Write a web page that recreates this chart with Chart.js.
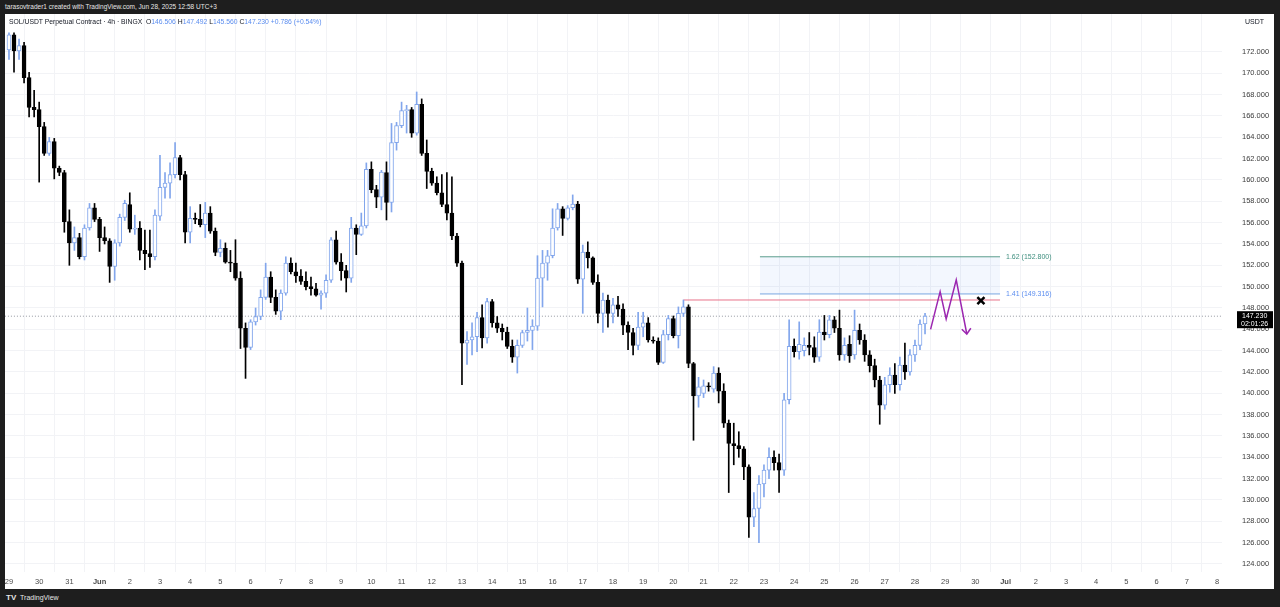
<!DOCTYPE html>
<html lang="en">
<head>
  <meta charset="UTF-8">
  <title>SOL/USDT Perpetual Contract - 4h</title>
  <script src="https://cdn.jsdelivr.net/npm/chart.js"></script>
  <style>
    html, body {
      margin: 0;
      padding: 0;
      width: 1280px;
      height: 607px;
      overflow: hidden;
      background: #1e1e1e;
      font-family: "Liberation Sans", Arial, sans-serif;
    }
    .topbar {
      position: absolute;
      left: 5px;
      top: 3px;
      font-size: 6.5px;
      color: #e6e6e6;
    }
    .panel {
      position: absolute;
      left: 5px;
      top: 14px;
      width: 1269px;
      height: 575px;
      background: #ffffff;
    }
    .panel canvas { position: absolute; left: 0; top: 0; }
    .legend {
      position: absolute;
      left: 4px;
      top: 4px;
      font-size: 6.8px;
      color: #131722;
      z-index: 2;
    }
    .legend .v { color: #5b8def; }
    .unit {
      position: absolute;
      left: 1240px;
      top: 4px;
      font-size: 7px;
      color: #131722;
      z-index: 2;
    }
    .brand {
      position: absolute;
      left: 6px;
      top: 593px;
      font-size: 7px;
      color: #e6e6e6;
    }
    .brand b { font-size: 8px; margin-right: 2px; }
  </style>
</head>
<body>

  <div class="topbar">tarasovtrader1 created with TradingView.com, Jun 28, 2025 12:58 UTC+3</div>

  <div class="panel">
    <div class="legend">SOL/USDT Perpetual Contract · 4h · BINGX &nbsp;O<span class="v">146.506</span> H<span class="v">147.492</span> L<span class="v">145.560</span> C<span class="v">147.230</span> <span class="v">+0.786 (+0.54%)</span></div>
    <div class="unit">USDT</div>
    <canvas id="solChart" width="1269" height="575"></canvas>
  </div>

  <div class="brand"><b>TV</b> TradingView</div>

  <script>
    // 4h candles, May 29 00:00 -> Jun 28 08:00 (index = candle number)
    const opens = [
      172.2, 173.6, 172.1, 172.6, 169.6, 166.8, 166.6, 165.0, 162.5, 163.6,
      161.1, 160.7, 156.1, 154.1, 154.6, 152.8, 155.5, 157.4, 156.3, 154.6,
      154.3, 151.9, 154.1, 156.5, 157.7, 155.4, 155.5, 153.4, 153.1, 152.8,
      156.6, 159.3, 159.7, 160.5, 162.1, 160.5, 155.1, 156.4, 156.3, 155.8,
      156.9, 155.2, 153.2, 153.6, 152.3, 152.2, 150.8, 146.1, 144.3, 146.7,
      147.2, 149.0, 150.9, 149.0, 147.7, 149.4, 152.2, 151.4, 151.0, 150.5,
      150.0, 149.8, 149.2, 149.4, 150.6, 154.4, 152.3, 151.5, 150.8, 155.5,
      154.9, 155.7, 161.0, 159.1, 158.4, 160.7, 157.9, 163.5, 165.1, 166.5,
      166.6, 164.4, 167.1, 162.5, 160.8, 159.7, 158.8, 157.7, 156.9, 154.75,
      152.2, 144.7, 145.0, 145.3, 147.1, 145.2, 148.6, 146.6, 146.1, 145.75,
      144.4, 143.4, 144.5, 145.7, 145.9, 146.3, 150.8, 152.2, 152.9, 155.5,
      157.3, 156.4, 157.4, 157.75, 150.7, 153.25, 152.7, 150.4, 147.5, 148.75,
      147.5, 148.3, 147.9, 146.4, 145.7, 144.5, 146.2, 146.6, 145.0, 144.9,
      142.9, 145.5, 147.0, 145.4, 147.5, 148.1, 142.8, 139.75, 140.0, 140.7,
      140.4, 141.9, 140.2, 137.2, 135.3, 135.1, 134.8, 133.1, 128.4, 129.2,
      131.5, 132.8, 134.0, 133.5, 132.8, 139.4, 144.4, 143.9, 144.0, 144.5,
      144.3, 143.4, 145.75, 145.5, 146.9, 146.1, 143.6, 144.6, 143.6, 145.9,
      145.0, 143.6, 142.6, 141.25, 138.9, 140.8, 141.7, 140.8, 142.65, 142.0,
      143.6, 144.5, 146.506
    ];
    const highs = [
      173.8, 173.8, 173.2, 172.9, 170.1, 168.4, 167.3, 165.4, 164.0, 163.9,
      161.3, 160.9, 157.2, 155.6, 155.0, 155.8, 157.8, 157.8, 156.5, 155.6,
      154.5, 154.4, 156.8, 158.1, 158.8, 156.7, 156.1, 155.3, 155.3, 157.2,
      162.3, 160.7, 161.6, 163.5, 162.3, 160.8, 157.5, 156.9, 157.7, 157.9,
      157.5, 155.5, 154.4, 154.1, 153.4, 154.4, 151.4, 146.6, 146.9, 148.0,
      149.7, 152.2, 151.4, 149.7, 149.7, 152.8, 152.7, 152.2, 151.6, 151.4,
      150.9, 150.3, 149.6, 151.1, 154.6, 155.2, 153.1, 152.0, 156.5, 155.8,
      156.9, 161.6, 161.7, 159.5, 160.9, 161.7, 165.3, 165.4, 167.3, 167.0,
      166.8, 168.25, 167.6, 163.75, 161.1, 160.3, 160.5, 160.7, 160.3, 155.0,
      152.4, 145.8, 146.6, 147.6, 148.3, 148.9, 148.8, 147.2, 146.5, 146.2,
      145.0, 145.0, 145.9, 148.0, 146.9, 152.9, 153.4, 153.4, 157.3, 157.8,
      157.5, 157.6, 158.6, 158.0, 153.9, 154.2, 152.8, 151.1, 149.4, 149.2,
      148.9, 149.1, 148.4, 146.7, 146.1, 147.6, 147.6, 147.1, 145.3, 145.2,
      145.9, 147.3, 147.25, 148.1, 148.75, 148.3, 142.9, 141.5, 141.25, 141.0,
      142.5, 142.4, 140.9, 137.5, 137.2, 136.4, 135.0, 133.3, 130.7, 132.3,
      133.3, 134.9, 134.6, 134.3, 140.0, 146.9, 145.1, 146.7, 145.2, 145.7,
      145.3, 146.9, 147.3, 147.3, 147.2, 147.8, 145.2, 145.4, 147.8, 146.5,
      145.5, 144.0, 143.2, 141.6, 141.5, 142.4, 142.8, 143.4, 144.7, 144.1,
      145.0, 146.9, 147.492
    ];
    const lows = [
      171.3, 170.1, 171.3, 169.1, 165.9, 165.9, 159.8, 162.3, 162.3, 160.1,
      160.4, 155.1, 152.0, 153.4, 152.6, 152.5, 155.3, 156.1, 153.3, 154.0,
      150.4, 150.6, 153.8, 156.2, 155.1, 154.9, 152.5, 151.6, 151.8, 152.5,
      156.2, 158.3, 158.3, 160.2, 160.0, 154.1, 154.1, 155.9, 155.6, 154.6,
      155.0, 152.9, 152.8, 152.2, 151.4, 150.6, 144.2, 141.4, 144.1, 146.4,
      146.9, 148.8, 148.5, 147.4, 146.9, 149.2, 151.2, 150.4, 150.2, 149.7,
      149.2, 149.1, 147.9, 149.0, 150.4, 152.1, 150.6, 149.5, 150.4, 153.0,
      154.8, 155.5, 158.8, 157.4, 157.2, 156.25, 157.0, 162.8, 164.9, 164.4,
      164.0, 164.2, 162.3, 159.2, 159.5, 158.6, 157.5, 156.25, 154.4, 151.9,
      140.8, 142.7, 143.6, 143.9, 144.25, 144.7, 146.2, 145.7, 145.0, 144.2,
      142.9, 141.9, 144.3, 144.9, 144.1, 145.9, 148.1, 150.6, 152.7, 155.3,
      154.8, 156.25, 157.2, 150.3, 147.5, 151.75, 150.2, 146.6, 145.7, 146.2,
      146.6, 147.2, 145.5, 144.1, 143.6, 144.1, 145.3, 144.8, 144.7, 142.7,
      142.8, 145.0, 145.2, 144.25, 147.2, 142.4, 135.6, 138.7, 139.6, 140.2,
      140.1, 139.1, 136.8, 130.7, 133.3, 134.0, 131.9, 126.5, 127.5, 126.0,
      130.3, 132.0, 132.8, 130.7, 132.3, 139.0, 143.4, 143.2, 143.5, 143.6,
      142.9, 143.0, 145.0, 145.2, 145.7, 143.1, 143.1, 142.9, 143.2, 144.6,
      143.0, 142.0, 140.6, 137.1, 138.5, 140.1, 140.0, 140.3, 141.3, 141.7,
      143.0, 144.1, 145.56
    ];
    const closes = [
      173.6, 172.1, 172.6, 169.6, 166.8, 166.6, 165.0, 162.5, 163.6, 161.1,
      160.7, 156.1, 154.1, 154.6, 152.8, 155.5, 157.4, 156.3, 154.6, 154.3,
      151.9, 154.1, 156.5, 157.8, 155.4, 155.5, 153.4, 153.1, 152.8, 156.7,
      159.3, 159.7, 160.5, 162.1, 160.5, 155.1, 156.4, 156.3, 155.8, 156.9,
      155.2, 153.2, 153.6, 152.3, 152.2, 150.8, 146.1, 144.3, 146.7, 147.2,
      149.0, 150.9, 149.0, 147.7, 149.4, 152.2, 151.4, 151.0, 150.5, 150.0,
      149.8, 149.2, 149.4, 150.6, 154.4, 152.3, 151.5, 150.8, 155.5, 154.9,
      155.7, 161.0, 159.1, 158.4, 160.75, 157.9, 163.5, 165.1, 166.5, 166.6,
      164.4, 167.1, 162.5, 160.8, 159.7, 158.8, 157.7, 156.9, 154.75, 152.2,
      144.7, 145.0, 145.3, 147.1, 145.2, 148.6, 146.6, 146.1, 145.75, 144.4,
      143.4, 144.5, 145.7, 145.9, 146.3, 150.8, 152.2, 152.9, 155.5, 157.3,
      156.4, 157.4, 157.75, 150.7, 153.25, 152.7, 150.4, 147.5, 148.75, 147.5,
      148.3, 147.9, 146.4, 145.7, 144.5, 146.2, 146.6, 145.0, 144.9, 142.9,
      145.5, 147.0, 145.4, 147.5, 148.1, 142.8, 139.75, 140.6, 140.7, 140.6,
      141.9, 140.2, 137.2, 135.3, 135.1, 134.8, 133.1, 128.4, 129.2, 131.5,
      132.8, 134.0, 133.5, 132.8, 139.4, 144.4, 143.9, 144.6, 144.5, 144.3,
      143.4, 145.75, 145.5, 146.9, 146.1, 143.6, 144.5, 143.5, 145.9, 145.0,
      143.6, 142.6, 141.25, 138.9, 140.8, 141.7, 140.8, 142.65, 142.0, 143.6,
      144.5, 146.5, 147.23
    ];

    // one label per day, a day = 6 candles
    const dayLabels = ['29', '30', '31', 'Jun',
      '2', '3', '4', '5', '6', '7', '8', '9', '10', '11', '12', '13', '14', '15', '16',
      '17', '18', '19', '20', '21', '22', '23', '24', '25', '26', '27', '28', '29', '30',
      'Jul', '2', '3', '4', '5', '6', '7', '8'];
    const priceTicks = [124, 126, 128, 130, 132, 134, 136, 138, 140, 142, 144, 146, 148,
      150, 152, 154, 156, 158, 160, 162, 164, 166, 168, 170, 172];

    // drawings
    const lastPrice = 147.23;
    const fibLevels = [149.316, 152.8];
    const fibNames = ['1.41 (149.316)', '1.62 (152.800)'];
    const fibStart = 149.2;
    const fibEnd = 196.9;
    const resistance = 148.75;
    const resistanceStart = 134;
    const pathX = [183.1, 185.0, 186.2, 188.2, 190.3];
    const pathY = [146.0, 149.53, 146.97, 150.63, 145.56];
    const headX = [189.3, 190.3, 191.1];
    const headY = [146.0, 145.56, 146.1];
    const crossX = 193.1;
    const crossY = 148.69;

    const UP = '#82a6ec';
    const DOWN = '#000000';
    const idx = opens.map((_, i) => i);
    const isUp = i => closes[i] >= opens[i];
    const font = '"Liberation Sans", Arial, sans-serif';

    const overlay = {
      id: 'overlay',
      afterDraw(chart) {
        const { ctx, scales: { x, y } } = chart;
        ctx.save();
        ctx.font = '7px ' + font;
        ctx.textBaseline = 'middle';
        ctx.fillStyle = '#5b8def';
        ctx.fillText(fibNames[0], x.getPixelForValue(fibEnd) + 6, y.getPixelForValue(fibLevels[0]));
        ctx.fillStyle = '#3f8f7f';
        ctx.fillText(fibNames[1], x.getPixelForValue(fibEnd) + 6, y.getPixelForValue(fibLevels[1]));

        // last price badge on the price scale
        const py = y.getPixelForValue(lastPrice);
        ctx.fillStyle = '#000';
        ctx.fillRect(x.right + 15, py - 5, 36, 17);
        ctx.fillStyle = '#fff';
        ctx.fillText(lastPrice.toFixed(3), x.right + 20, py);
        ctx.fillText('02:01:26', x.right + 19, py + 8);
        ctx.restore();
      }
    };

    const chart = new Chart(document.getElementById('solChart'), {
      type: 'bar',
      data: {
        datasets: [
          {
            label: 'body',
            data: idx.map(i => ({ x: i, y: [opens[i], closes[i]] })),
            backgroundColor: idx.map(i => isUp(i) ? '#ffffff' : DOWN),
            borderColor: idx.map(i => isUp(i) ? UP : DOWN),
            borderWidth: 1,
            borderSkipped: false,
            barThickness: 4,
            grouped: false,
            order: 1
          },
          {
            label: 'wick',
            data: idx.map(i => ({ x: i, y: [lows[i], highs[i]] })),
            backgroundColor: idx.map(i => isUp(i) ? UP : DOWN),
            barThickness: 1,
            grouped: false,
            order: 2
          },
          {
            type: 'line',
            label: 'last',
            data: [{ x: -2, y: lastPrice }, { x: 245, y: lastPrice }],
            borderColor: '#9598a1',
            borderWidth: 1,
            borderDash: [1, 2],
            pointRadius: 0,
            order: 6
          },
          {
            type: 'line',
            label: 'fib 1.62',
            data: [{ x: fibStart, y: fibLevels[1] }, { x: fibEnd, y: fibLevels[1] }],
            borderColor: '#5a9c8c',
            borderWidth: 1,
            pointRadius: 0,
            fill: false,
            order: 4
          },
          {
            type: 'line',
            label: 'fib 1.41',
            data: [{ x: fibStart, y: fibLevels[0] }, { x: fibEnd, y: fibLevels[0] }],
            borderColor: '#7aa6e0',
            borderWidth: 1,
            pointRadius: 0,
            fill: '-1',
            backgroundColor: 'rgba(80, 140, 235, 0.07)',
            order: 4
          },
          {
            type: 'line',
            label: 'resistance',
            data: [{ x: resistanceStart, y: resistance }, { x: fibEnd, y: resistance }],
            borderColor: '#e8748a',
            borderWidth: 1,
            pointRadius: 0,
            order: 3
          },
          {
            type: 'line',
            label: 'path',
            data: pathX.map((v, i) => ({ x: v, y: pathY[i] })),
            borderColor: '#9c27b0',
            borderWidth: 1.5,
            pointRadius: 0,
            tension: 0,
            order: 0
          },
          {
            type: 'line',
            label: 'arrow',
            data: headX.map((v, i) => ({ x: v, y: headY[i] })),
            borderColor: '#9c27b0',
            borderWidth: 1.5,
            pointRadius: 0,
            order: 0
          },
          {
            type: 'scatter',
            label: 'x',
            data: [{ x: crossX, y: crossY }],
            pointStyle: 'crossRot',
            pointRadius: 5,
            borderColor: '#000',
            borderWidth: 2.5,
            order: 0
          }
        ]
      },
      options: {
        responsive: false,
        devicePixelRatio: 1,
        animation: false,
        layout: { padding: 0, autoPadding: false },
        plugins: {
          legend: { display: false },
          tooltip: { enabled: false }
        },
        scales: {
          x: {
            type: 'linear',
            min: -0.79,
            max: 241,
            offset: false,
            border: { display: false },
            grid: { color: '#f2f3f6', drawTicks: false },
            ticks: {
              autoSkip: false,
              maxRotation: 0,
              padding: 5,
              color: '#4a4a4a',
              font: ctx => ({
                family: font,
                size: 7.5,
                weight: (ctx.tick && ['Jun', 'Jul'].includes(dayLabels[ctx.tick.value / 6])) ? 'bold' : 'normal'
              }),
              callback: v => dayLabels[v / 6]
            },
            afterBuildTicks: s => { s.ticks = dayLabels.map((_, d) => ({ value: d * 6 })); },
            afterFit: s => {
              s.height = 17;
              s.paddingLeft = 0;
              s.paddingRight = 0;
            }
          },
          y: {
            position: 'right',
            min: 123.25,
            max: 175.56,
            border: { display: false },
            grid: { color: '#f2f3f6', drawTicks: false },
            ticks: {
              padding: 20,
              color: '#3a3a3a',
              font: { family: font, size: 7.5 },
              callback: v => v.toFixed(3)
            },
            afterBuildTicks: s => { s.ticks = priceTicks.map(v => ({ value: v })); },
            afterFit: s => {
              s.width = 52;
              s.paddingTop = 0;
              s.paddingBottom = 0;
            }
          }
        }
      },
      plugins: [overlay]
    });
  </script>

</body>
</html>
